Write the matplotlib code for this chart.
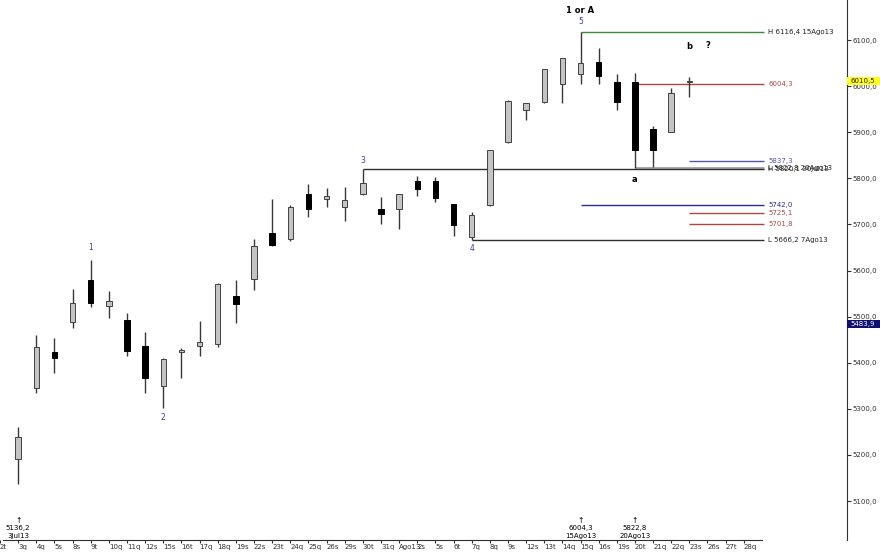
import matplotlib.pyplot as plt
import matplotlib.transforms as mtransforms
from matplotlib.patches import Rectangle

plt.rcParams['font.family'] = ['DejaVu Sans']

# --- dados (dias de negociação, Jul-Ago 2013) ---
tick_labels = ['2t', '3q', '4q', '5s', '8s', '9t', '10q', '11q', '12s', '15s', '16t',
               '17q', '18q', '19s', '22s', '23t', '24q', '25q', '26s', '29s', '30t',
               '31q', 'Ago13', '2s', '5s', '6t', '7q', '8q', '9s', '12s', '13t', '14q',
               '15q', '16s', '19s', '20t', '21q', '22q', '23s', '26s', '27t', '28q']

candle_idx = list(range(1, 39))
opens = [5191, 5345, 5423, 5488, 5579, 5523, 5493, 5436, 5350, 5423, 5436, 5441, 5545,
         5582, 5682, 5668, 5767, 5755, 5738, 5766, 5733, 5733, 5794, 5794, 5744, 5672,
         5743, 5879, 5948, 5965, 6004, 6026, 6052, 6009, 6009, 5907, 5901, 6008]
highs = [5260, 5460, 5454, 5560, 5623, 5555, 5508, 5467, 5410, 5432, 5490, 5573, 5579,
         5668, 5755, 5742, 5788, 5779, 5781, 5820.1, 5760, 5767, 5805, 5803, 5745, 5727,
         5862, 5969, 5964, 6038, 6062, 6116.4, 6083, 6026, 6028, 5914, 5996, 6020]
lows = [5136.2, 5334, 5378, 5475, 5521, 5497, 5415, 5334, 5302, 5367, 5415, 5434, 5487,
        5558, 5653, 5665, 5716, 5738, 5708, 5764, 5701, 5690, 5762, 5749, 5675, 5666.2,
        5740, 5877, 5927, 5964, 5963, 6004.3, 6005, 5948, 5822.8, 5825, 5900, 5977]
closes = [5239, 5434, 5410, 5530, 5530, 5534, 5425, 5367, 5408, 5428, 5445, 5571, 5527,
          5653, 5655, 5738, 5733, 5762, 5753, 5790, 5723, 5766, 5777, 5758, 5699, 5720,
          5861, 5968, 5963, 6037, 6061, 6050, 6022, 5966, 5861, 5861, 5985, 6010.5]

# linhas horizontais (nível, início, texto, cor, espessura)
level_values = [6116.4, 6004.3, 5837.3, 5742.0, 5725.1, 5701.8, 5666.2, 5822.8, 5820.1]
level_start = [32, 35, 38, 32, 38, 38, 26, 35, 20]
level_texts = ['H 6116,4 15Ago13', '6004,3', '5837,3', '5742,0', '5725,1', '5701,8',
               'L 5666,2 7Ago13', 'L 5822,8 20Ago13', 'H 5820,1 30Jul13']
level_colors = ['#3c8c3c', '#b04545', '#5555b0', '#2a2a90', '#b04545', '#b04545',
                '#303030', '#a8a8a8', '#303030']
level_widths = [1, 1, 1, 1, 1, 1, 1, 2.2, 1]

# contagem de ondas
wave_idx = [5, 9, 20, 26, 32, 32, 35, 38, 39]
wave_texts = ['1', '2', '3', '4', '5', '1 or A', 'a', 'b', '?']
wave_anchor = [5623, 5302, 5820.1, 5666.2, 6116.4, 6116.4, 5822.8, 6020, 6020]
wave_offset = [12, -10, 9, -8, 11, 22, -12, 30, 31]

# setas no eixo inferior
arrow_idx = [1, 32, 35]
arrow_vals = ['5136,2', '6004,3', '5822,8']
arrow_dates = ['3Jul13', '15Ago13', '20Ago13']

last_price = 6010.5
avg_price = 5483.9

# --- figura ---
fig = plt.figure(figsize=(8.8, 5.52), dpi=100)
ax = fig.add_axes([0, 12 / 552, 847 / 880, 540 / 552])
ax.set_xlim(0.15, 46.69)
ax.set_ylim(5015.5, 6186.8)

# velas
for i, o, h, l, c in zip(candle_idx, opens, highs, lows, closes):
    ax.vlines(i, l, h, color='#383838', lw=1, zorder=2)
    up = c >= o
    ax.bar(i, max(abs(c - o), 2.0), bottom=min(o, c), width=0.3,
           color='#c4c4c4' if up else 'black', edgecolor='#404040' if up else 'black',
           linewidth=0.7, zorder=3)

# níveis
for v, s, t, col, w in zip(level_values, level_start, level_texts, level_colors, level_widths):
    ax.hlines(v, s, 42.13, color=col, lw=w, zorder=1)
    tcol = col if t[0] not in 'HL' else '#202020'
    ax.text(42.35, v, t, color=tcol, fontsize=5, va='center', ha='left')

# ondas
for i, t, a, off in zip(wave_idx, wave_texts, wave_anchor, wave_offset):
    bold = t in ('1 or A', 'a', 'b', '?')
    ax.annotate(t, (i, a), xytext=(0, off), textcoords='offset pixels',
                ha='center', va='center',
                fontsize=6 if bold else 5.5,
                fontweight='bold' if bold else 'normal',
                color='black' if bold else '#3838a8')

# setas inferiores
bt = mtransforms.blended_transform_factory(ax.transData, ax.transAxes)
for i, v, d in zip(arrow_idx, arrow_vals, arrow_dates):
    ax.text(i, 0.036, '\u2191', transform=bt, ha='center', va='center', fontsize=5.5)
    ax.text(i, 0.022, v, transform=bt, ha='center', va='center', fontsize=5)
    ax.text(i, 0.008, d, transform=bt, ha='center', va='center', fontsize=5)

# eixos
for side in ['top', 'left']:
    ax.spines[side].set_visible(False)
ax.spines['right'].set_color('#303030')
ax.spines['bottom'].set_color('#303030')
ax.spines['bottom'].set_bounds(0.15, 42.0)
ax.set_xticks(range(len(tick_labels)))
ax.set_xticklabels(tick_labels, ha='left', fontsize=5, color='#303030')
ax.tick_params(axis='x', length=2, pad=1, color='#303030')

yt = list(range(5100, 6101, 100))
ax.yaxis.tick_right()
ax.set_yticks(yt)
ax.set_yticklabels([f'{v:.1f}'.replace('.', ',') for v in yt], fontsize=5, color='#303030')
ax.tick_params(axis='y', length=3, pad=1, color='#303030')

# caixas de preço à direita
rt = mtransforms.blended_transform_factory(ax.transAxes, ax.transData)
ax.add_patch(Rectangle((1.0, last_price - 9), 33 / 847, 18, transform=rt,
                       facecolor='#ffff20', edgecolor='none', clip_on=False, zorder=5))
ax.text(1.004, last_price, '6010,5', transform=rt, fontsize=5, va='center',
        ha='left', color='#202020', zorder=6)
ax.add_patch(Rectangle((1.0, avg_price - 9), 33 / 847, 18, transform=rt,
                       facecolor='#10106e', edgecolor='none', clip_on=False, zorder=5))
ax.text(1.004, avg_price, '5483,9', transform=rt, fontsize=5, va='center',
        ha='left', color='white', zorder=6)

fig.savefig('out.png', dpi=100)
